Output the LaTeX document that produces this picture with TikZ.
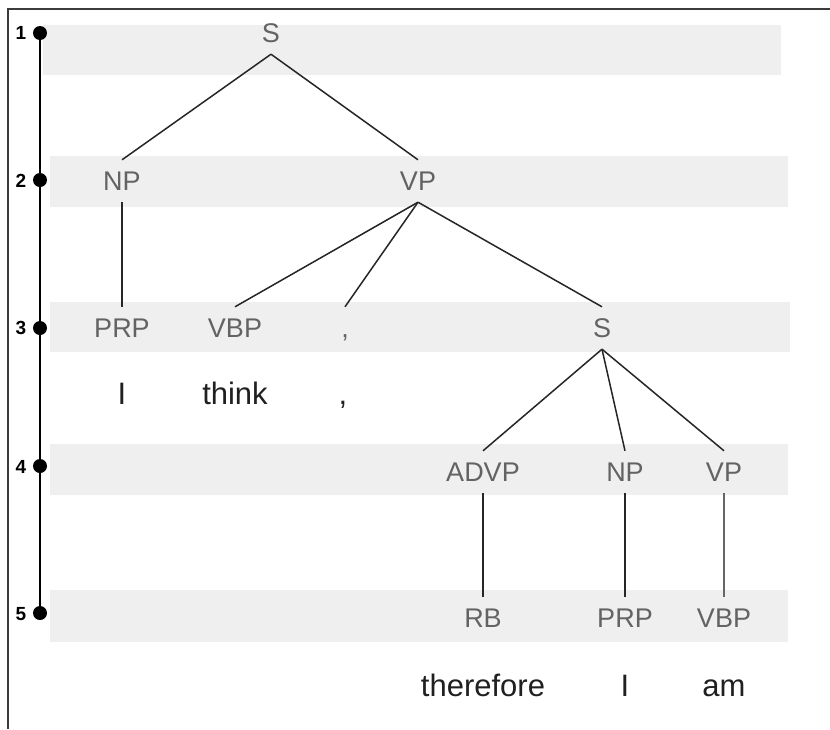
\documentclass[tikz,border=0pt]{standalone}
\usepackage{fontspec}
\setmainfont{Liberation Sans}
\definecolor{bandgray}{HTML}{EFEFEF}
\definecolor{taggray}{HTML}{636363}
\definecolor{wordblack}{HTML}{202020}
\definecolor{framegray}{HTML}{3C3C3C}
\begin{document}
\begin{tikzpicture}[x=1pt,y=-1pt,
  tag/.style={text=taggray,font=\fontsize{27}{27}\selectfont,text height=19pt,text depth=0pt,inner xsep=2pt,inner ysep=11.5pt},
  word/.style={text=wordblack,font=\fontsize{31}{31}\selectfont,inner sep=0pt,anchor=base},
  band/.style={fill=bandgray,draw=none},
  edge/.style={draw=black!85,line width=1.5pt},
  dotn/.style={circle,fill=black,inner sep=0pt,minimum size=14pt},
  lvl/.style={font=\fontsize{19}{19}\selectfont\bfseries,text=black,inner sep=0pt}]
\useasboundingbox (0,0) rectangle (830,729);
\fill[white] (0,0) rectangle (830,729);
% bands
\path[band] (43,25) rectangle (781,75);
\path[band] (50,156) rectangle (788,207);
\path[band] (50,302) rectangle (790,352);
\path[band] (50,444) rectangle (788,495);
\path[band] (50,590) rectangle (788,642);
% frame
\draw[framegray,line width=2pt] (830,9) -- (8,9) -- (8,729);
% level timeline
\node[dotn] (d1) at (40,33) {};
\node[dotn] (d2) at (40,180) {};
\node[dotn] (d3) at (40,328) {};
\node[dotn] (d4) at (40,466) {};
\node[dotn] (d5) at (40,613) {};
\draw[black,line width=1.3pt] (d1) -- (d2) -- (d3) -- (d4) -- (d5);
\node[lvl] (l1) at (21,33) {1};
\node[lvl] (l2) at (21,181) {2};
\node[lvl] (l3) at (21,328) {3};
\node[lvl] (l4) at (21,467) {4};
\node[lvl] (l5) at (21,614) {5};
% tags
\node[tag] (S1) at (271,33) {S};
\node[tag] (NP1) at (122,181) {NP};
\node[tag] (VP1) at (418,181) {VP};
\node[tag] (PRP1) at (122,328) {PRP};
\node[tag] (VBP1) at (235,328) {VBP};
\node[tag] (C1) at (345,328) {,};
\node[tag] (S2) at (602,328) {S};
\node[tag] (ADVP) at (483,472) {ADVP};
\node[tag] (NP2) at (625,472) {NP};
\node[tag] (VP2) at (724,472) {VP};
\node[tag] (RB) at (483,618) {RB};
\node[tag] (PRP2) at (625,618) {PRP};
\node[tag] (VBP2) at (724,618) {VBP};
% words
\node[word] (w1) at (122,404) {I};
\node[word] (w2) at (235,404) {think};
\node[word] (w3) at (343,404) {,};
\node[word] (w4) at (483,696) {therefore};
\node[word] (w5) at (625,696) {I};
\node[word] (w6) at (724,696) {am};
% edges
\draw[edge] (S1.south) -- (NP1.north);
\draw[edge] (S1.south) -- (VP1.north);
\draw[edge] (NP1.south) -- (PRP1.north);
\draw[edge] (VP1.south) -- (VBP1.north);
\draw[edge] (VP1.south) -- (C1.north);
\draw[edge] (VP1.south) -- (S2.north);
\draw[edge] (S2.south) -- (ADVP.north);
\draw[edge] (S2.south) -- (NP2.north);
\draw[edge] (S2.south) -- (VP2.north);
\draw[edge] (ADVP.south) -- (RB.north);
\draw[edge] (NP2.south) -- (PRP2.north);
\draw[edge,draw=black!60,line width=1.1pt] (VP2.south) -- (VBP2.north);
\end{tikzpicture}
\end{document}
